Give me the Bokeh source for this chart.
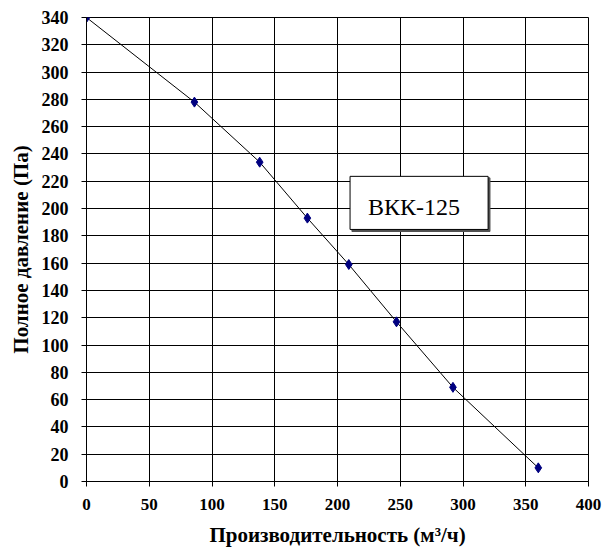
from bokeh.plotting import figure
from bokeh.models import ColumnDataSource, Range1d, FixedTicker, BoxAnnotation, Label
from bokeh.embed import file_html
from bokeh.resources import INLINE

# flow (m3/h) vs total pressure (Pa) for VKK-125
flow = [0, 86, 138, 176, 209, 247, 292, 360]
pressure = [340, 278, 234, 193, 159, 117, 69, 10]

x_ticks = [0, 50, 100, 150, 200, 250, 300, 350, 400]
y_ticks = list(range(0, 341, 20))

serif = "Liberation Serif"

src = ColumnDataSource(data=dict(x=flow, y=pressure))

p = figure(width=603, height=552, output_backend="svg", toolbar_location=None,
           x_range=Range1d(0, 400), y_range=Range1d(0, 340),
           min_border_left=86, min_border_right=15, min_border_top=17, min_border_bottom=71)

p.line("x", "y", source=src, line_color="black", line_width=1)
p.scatter("x", "y", source=src, marker="diamond", size=10, fill_color="#000080", line_color="#000080")

# label box with shadow
p.add_layout(BoxAnnotation(left=211.5, right=321.5, top=222.5, bottom=183.2, fill_color="#505050",
                           fill_alpha=1, line_color="#505050", line_alpha=1))
p.add_layout(BoxAnnotation(left=210, right=320, top=223.6, bottom=184.7, fill_color="white",
                           fill_alpha=1, line_color="black", line_width=1, line_alpha=1))
p.add_layout(Label(x=261, y=201, text="ВКК-125", text_font=serif, text_font_size="24px",
                   text_align="center", text_baseline="alphabetic", text_color="black"))

p.xaxis.ticker = FixedTicker(ticks=x_ticks)
p.yaxis.ticker = FixedTicker(ticks=y_ticks)

for ax in (p.xaxis, p.yaxis):
    ax.axis_line_color = "black"
    ax.major_tick_line_color = "black"
    ax.major_tick_in = 0
    ax.major_tick_out = 5
    ax.minor_tick_line_color = None
    ax.major_label_text_font = serif
    ax.major_label_text_font_style = "bold"
    ax.major_label_text_color = "black"
    ax.axis_label_text_font = serif
    ax.axis_label_text_font_style = "bold"
    ax.axis_label_text_font_size = "21px"
    ax.axis_label_text_color = "black"

p.xaxis.major_label_text_font_size = "17px"
p.yaxis.major_label_text_font_size = "18px"
p.xaxis.axis_label = "Производительность (м³/ч)"
p.yaxis.axis_label = "Полное давление (Па)"
p.xaxis.major_label_standoff = 12
p.yaxis.major_label_standoff = 13
p.xaxis.axis_label_standoff = 10
p.yaxis.axis_label_standoff = 6

p.grid.grid_line_color = "black"
p.grid.grid_line_alpha = 1
p.outline_line_color = "black"
p.background_fill_color = "white"
p.border_fill_color = "white"

open("out.html", "w").write(file_html(p, INLINE))
